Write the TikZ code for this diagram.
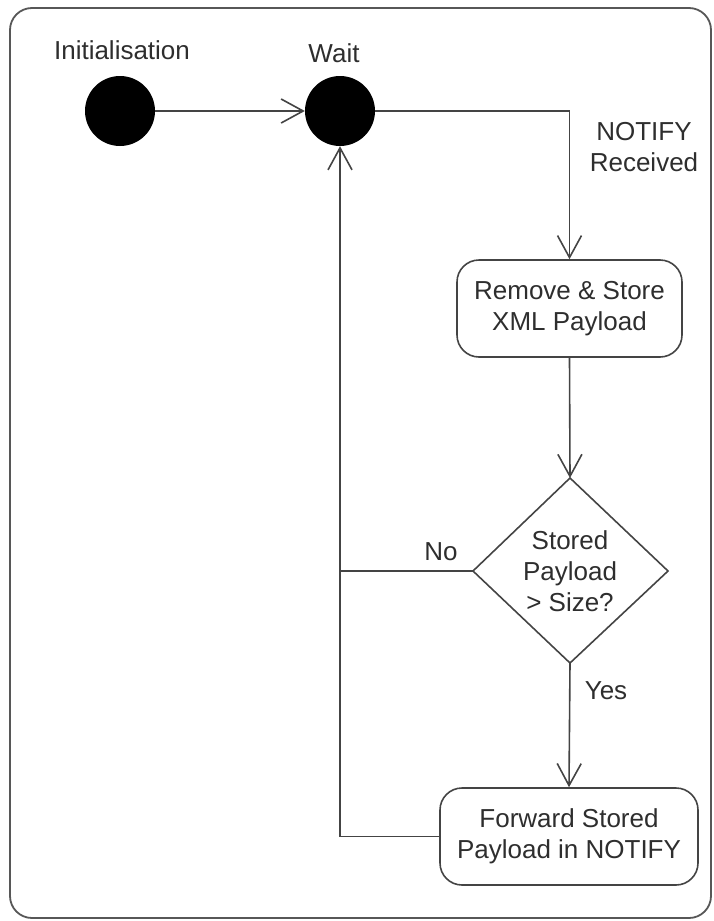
\documentclass[tikz,border=0pt]{standalone}
\usepackage{fontspec}
\setmainfont{Liberation Sans}
\usetikzlibrary{arrows.meta}
\definecolor{linec}{HTML}{444444}
\definecolor{textc}{HTML}{2E2E2E}
\begin{document}
\begin{tikzpicture}[x=1pt,y=-1pt,
  every node/.style={font=\fontsize{26}{31}\selectfont, text=textc},
  conn/.style={draw=linec, line width=1.6pt},
  arr/.style={conn, -{Straight Barb[length=22pt,width=24pt,line width=1.6pt]}},
  startdot/.style={circle, fill=black, minimum size=70pt, inner sep=0pt},
  actbox/.style={draw=linec, line width=1.6pt, rounded corners=22pt, align=center, inner sep=0pt},
  lbl/.style={align=center, inner sep=0pt}
]
\useasboundingbox (0,0) rectangle (713,921);
% frame
\draw[draw=linec!90, line width=1.8pt, rounded corners=22pt] (10,8) rectangle (711,918);

% states
\node[startdot] (init) at (120,111) {};
\node[lbl] (initl) at (122,50) {Initialisation};
\node[startdot] (wait) at (340,111) {};
\node[lbl] (waitl) at (334,53) {Wait};

% activities
\node[actbox, minimum width=225pt, minimum height=97pt] (remove) at (569.5,308.5) {Remove \& Store\\XML Payload};
\node[actbox, minimum width=258pt, minimum height=97pt] (forward) at (569,836.5) {Forward Stored\\Payload in NOTIFY};

% decision
\coordinate (dt) at (570,478);
\coordinate (dl) at (473,571);
\coordinate (dr) at (668,571);
\coordinate (db) at (570,663);
\draw[conn] (dt) -- (dr) -- (db) -- (dl) -- cycle;
\node[lbl] (dtext) at (570,571) {Stored\\Payload\\> Size?};

% connectors
\draw[arr] (init) -- (wait);
\draw[arr] (wait.east) -| (remove.north);
\draw[arr] (remove.south) -- (dt);
\draw[arr] (db) -- (forward.north);
\coordinate (junc) at (340,571);
\draw[arr] (forward.west) -| (wait.south);
\draw[conn] (dl) -- (junc);

% labels
\node[lbl] (notify) at (644,147) {NOTIFY\\Received};
\node[lbl] (nol) at (441,552) {No};
\node[lbl] (yesl) at (606,691) {Yes};
\end{tikzpicture}
\end{document}
